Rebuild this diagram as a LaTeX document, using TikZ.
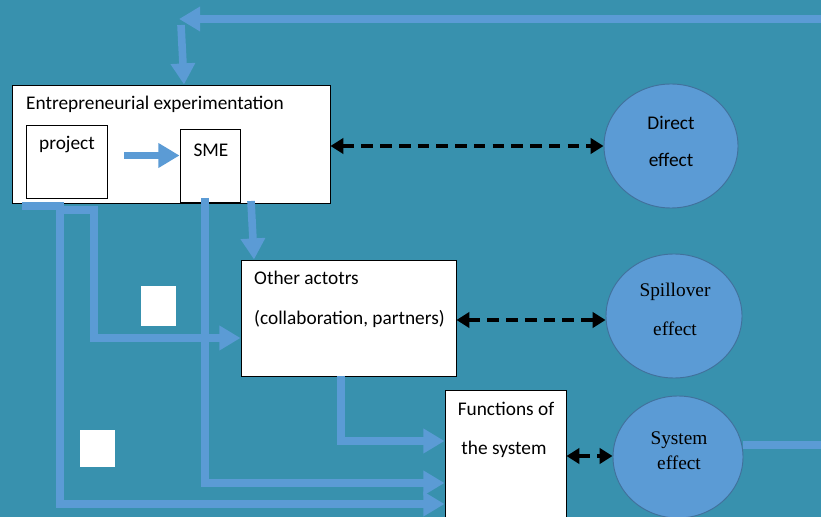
\documentclass[tikz,border=0pt]{standalone}
\usepackage{fontspec}
\setmainfont{Carlito}
\newfontfamily\serifface{Liberation Serif}
\usetikzlibrary{arrows.meta,shapes.geometric,calc}

\definecolor{bgteal}{RGB}{56,145,174}
\definecolor{flowblue}{RGB}{91,155,213}
\definecolor{rimblue}{RGB}{65,113,156}

\tikzset{
  box/.style={draw=black, fill=white, line width=0.8pt, inner sep=0pt},
  effect/.style={ellipse, draw=rimblue, fill=flowblue, line width=0.8pt, inner sep=0pt},
  patch/.style={fill=white, inner sep=0pt},
  flow/.style={draw=flowblue, line width=6.5pt, -{Triangle[length=18pt,width=20pt]}},
  flowline/.style={draw=flowblue, line width=6.5pt},
  link/.style={draw=black, line width=3.4pt, dash pattern=on 10pt off 6pt,
    {Triangle[length=11pt,width=13pt]}-{Triangle[length=11pt,width=13pt]}},
  lbl/.style={inner sep=0pt, font=\fontsize{16.5}{19}\selectfont},
  slbl/.style={inner sep=0pt, font=\serifface\fontsize{16.5}{19}\selectfont}
}

\begin{document}
\begin{tikzpicture}[x=0.03cm, y=-0.03cm]
        % Sfondo
        \clip (0,0) rectangle (821,517);
        \fill[bgteal] (0,0) rectangle (821,517);

        % Riquadri
        \node[box, minimum width=9.54cm, minimum height=3.54cm] (ee) at (171,144) {};
        \node[box, minimum width=2.43cm, minimum height=2.19cm] (project) at (66.5,161.5) {};
        \node[box, minimum width=1.8cm, minimum height=2.19cm] (sme) at (210,165.5) {};
        \node[box, minimum width=6.45cm, minimum height=3.48cm] (oa) at (348.5,318) {};
        \node[box, minimum width=3.63cm, minimum height=4.2cm] (fs) at (505.5,460) {};

        % Quadratini bianchi
        \node[patch, minimum width=1.05cm, minimum height=1.2cm] (sq1) at (158.5,306) {};
        \node[patch, minimum width=1.05cm, minimum height=1.11cm] (sq2) at (97.5,448.5) {};

        % Effetti
        \node[effect, minimum width=4.02cm, minimum height=3.72cm] (direct) at (671,146) {};
        \node[effect, minimum width=4.08cm, minimum height=3.72cm] (spill) at (674,316) {};
        \node[effect, minimum width=3.9cm, minimum height=3.66cm] (system) at (678,457) {};

        % Testi
        \node[lbl, anchor=west] (eetxt) at (26,104) {Entrepreneurial experimentation};
        \node[lbl] (projtxt) at (67,145) {project};
        \node[lbl] (smetxt) at (211,150) {SME};
        \node[lbl, anchor=west] (oatxt1) at (254,278) {Other actotrs};
        \node[lbl, anchor=west] (oatxt2) at (254,319) {(collaboration, partners)};
        \node[lbl] (fstxt1) at (506,409) {Functions of};
        \node[lbl] (fstxt2) at (504,449) {the system};
        \node[lbl] (dirtxt1) at (671,123) {Direct};
        \node[lbl] (dirtxt2) at (671,160) {effect};
        \node[slbl] (spltxt1) at (675,292) {Spillover};
        \node[slbl] (spltxt2) at (675,329) {effect};
        \node[slbl] (systxt1) at (679,440) {System};
        \node[slbl] (systxt2) at (679,463) {effect};

        % Ciclo di ritorno
        \coordinate (loopin) at (830,19);
        \coordinate (loopend) at (179,19);
        \coordinate (loopdown) at (181,25);
        \draw[flow] (loopin) -- (loopend);
        \draw[flow] (loopdown) -- (ee.north -| 184,0);
        \draw[flowline] (system.east |- 0,445) -- (830,445);

        % Frecce blu
        \draw[flow] ($(project.east)+(17,-6)$) -- (sme.west |- 0,155.5);
        \draw[flow] (22,206) -- (60,206) -- (60,504) -- (fs.west |- 0,504);
        \draw[flow] (60,210) -- (94,210) -- (94,338) -- (oa.west |- 0,338);
        \draw[flow] (205,198) -- (205,483) -- (fs.west |- 0,483);
        \draw[flow] (251,201) -- (oa.north -| 254,0);
        \draw[flow] (oa.south -| 341,0) -- (341,441) -- (fs.west |- 0,441);

        % Frecce tratteggiate
        \draw[link] (ee.east |- direct.west) -- (direct.west);
        \draw[link] (oa.east |- 0,320) -- (spill.west |- 0,320);
        \draw[link] (fs.east |- 0,456) -- (system.west |- 0,456);

    \end{tikzpicture}
\end{document}
